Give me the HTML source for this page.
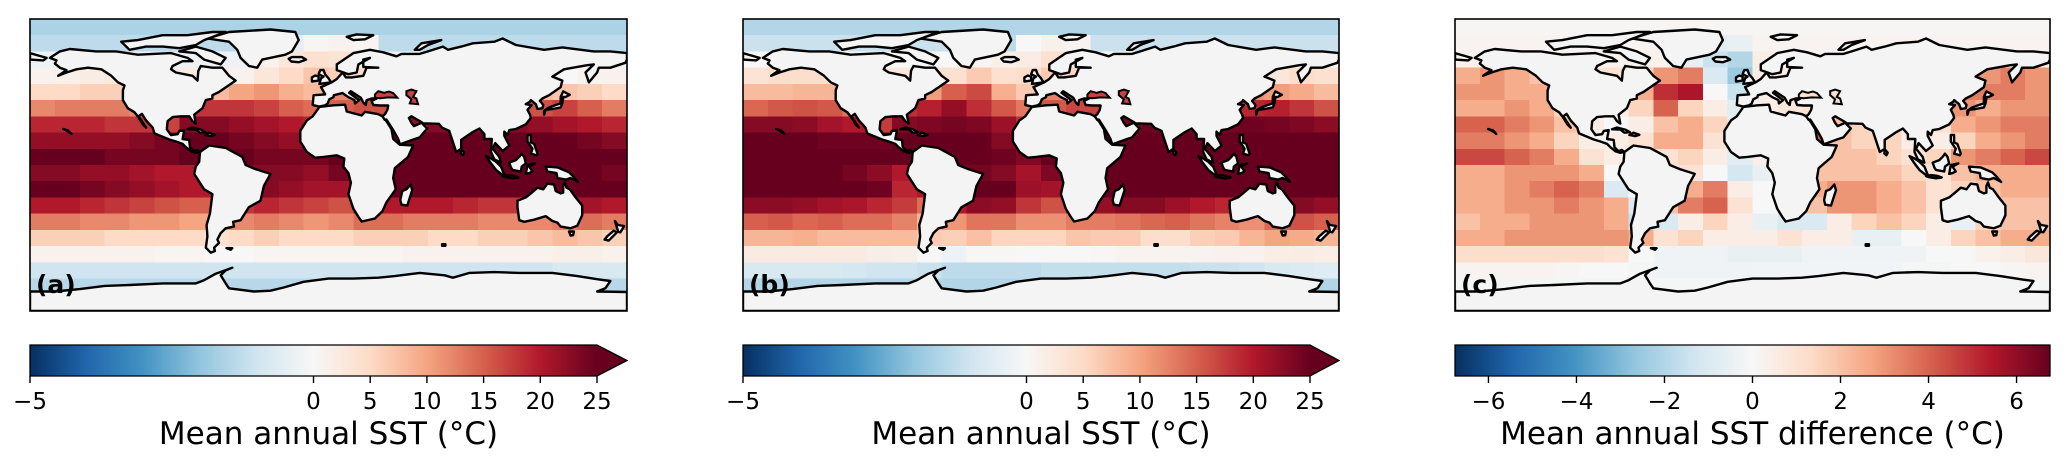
<!DOCTYPE html>
<html><head><meta charset="utf-8">
<style>
html,body{margin:0;padding:0;background:#fff;}
body{width:2067px;height:468px;overflow:hidden;font-family:"DejaVu Sans","Liberation Sans",sans-serif;}
svg text{font-family:"DejaVu Sans","Liberation Sans",sans-serif;}
</style></head>
<body>
<svg id="fig" width="2067" height="468" viewBox="0 0 2067 468" xmlns="http://www.w3.org/2000/svg">
<defs id="defs"></defs>
</svg>
<script>
// ---- data: latitude/longitude cell centres (10° x 15° grid) ----
const latCenters = [85,75,65,55,45,35,25,15,5,-5,-15,-25,-35,-45,-55,-65,-75,-85];
const lonCenters = [-172.5,-157.5,-142.5,-127.5,-112.5,-97.5,-82.5,-67.5,-52.5,-37.5,-22.5,-7.5,7.5,22.5,37.5,52.5,67.5,82.5,97.5,112.5,127.5,142.5,157.5,172.5];
// panel (a) mean annual SST (°C)
const sstA = [
[-1.6,-1.6,-1.6,-1.6,-1.6,-1.6,-1.6,-1.6,-1.6,-1.6,-1.6,-1.6,-1.6,-1.6,-1.6,-1.6,-1.6,-1.6,-1.6,-1.6,-1.6,-1.6,-1.6,-1.6],
[-1.3,-1.3,-1.3,-1.3,-1.3,-1.3,-1.3,-1.3,-1.3,-1.3,-0.5,0.5,1,0.5,-1.3,-1.3,-1.3,-1.3,-1.3,-1.3,-1.3,-1.3,-1.3,-1.3],
[-0.3,-0.3,-0.3,-0.3,-0.3,-0.3,-0.3,-0.3,-0.3,1,3,4,3.5,1.5,-0.3,-0.3,-0.3,-0.3,-0.3,-0.3,-0.3,-0.3,-0.3,-0.3],
[1,1.5,2,2.5,3,2,2,2,1,3,5,7,6,5,3,3,3,3,3,3,3,0,1,1],
[5,5,6,6,6,7,8,8,10,11,9,8,12,12,11,8,8,8,8,8,8,7,6,5],
[12,13,13,13,12,12,18,18,18,17,15,14,15,16,16,16,16,16,16,16,16,17,15,13],
[19,19,19,18,18,17,23,23,22,21,20,19,20,22,22,22,23,23,23,23,22,21,20,19],
[22,22,22,22,23,24,25,25,24,23,22,21,23,25,26,26,26,26,26,26,26,25,24,23],
[25,25,25,24,24,24,25,25,25,24,24,24,25,26,27,27,27,27,27,27,27,27,26,26],
[23,23,22,22,21,20,20,21,23,23,23,22,24,26,27,27,27,27,27,27,27,26,25,24],
[25,25,24,23,22,21,20,20,22,23,22,21,21,23,25,25,25,25,25,26,26,26,26,25],
[20,20,19,18,17,16,15,15,18,19,18,17,16,19,20,20,20,19,18,18,19,21,21,20],
[13,13,12,12,11,11,10,10,12,13,12,11,12,14,14,13,13,13,12,12,12,13,14,13],
[6,6,6,5,5,5,5,4,5,6,5,5,5,6,6,6,5,5,6,6,7,8,7,6],
[1,1,1,1,1,0.5,0.5,0,0,0.5,0.5,0.5,0.5,0.5,0.5,1,1,1,1,1,1,1.5,1.5,1],
[-1,-1,-1,-1,-1,-1,-1,-1,-1,-1,-1,-1,-1,-1,-1,-1,-1,-1,-1,-1,-1,-0.8,-0.8,-0.8],
[-1.4,-1.4,-1.4,-1.4,-1.4,-1.4,-1.4,-1.4,-1.4,-1.4,-1.4,-1.4,-1.4,-1.4,-1.4,-1.4,-1.4,-1.4,-1.4,-1.4,-1.4,-1.4,-1.4,-1.4],
[-1.5,-1.5,-1.5,-1.5,-1.5,-1.5,-1.5,-1.5,-1.5,-1.5,-1.5,-1.5,-1.5,-1.5,-1.5,-1.5,-1.5,-1.5,-1.5,-1.5,-1.5,-1.5,-1.5,-1.5]
];
// panel (c) SST difference (b - a), °C
const sstDiff = [
[0.1,0.1,0.1,0.1,0.1,0.1,0.1,0.1,0.1,0.1,0.1,0.1,0.1,0.1,0.1,0.1,0.1,0.1,0.1,0.1,0.1,0.1,0.1,0.1],
[0.2,0.2,0.2,0.2,0.2,0.2,0.2,0.2,0.2,0.2,-0.8,-0.5,0.2,0.2,0.2,0.2,0.2,0.2,0.2,0.2,0.2,0.2,0.2,0.2],
[0.3,0.3,0.3,0.3,0.3,0.3,0.3,0.3,0.3,-0.5,-1.5,-2,0.5,0.3,0.3,0.3,0.3,0.3,0.3,0.3,0.3,0.3,0.3,0.3],
[2.5,3,2.5,2,1,1,1,1.5,3,3.5,-1,-2.5,0.5,0.5,0.5,0.5,0.5,0.5,0.5,1,2.5,3,3.5,3],
[3,3,2.5,2.5,2,1,1,2.5,5,5.5,0,-1.5,0.5,1,1,1,1,1,1,2,3.5,3.5,3.5,3],
[2.5,2.5,3,2.5,1.5,0.5,0.5,1.5,4,1.5,0.5,-0.8,0.5,0.8,1,1,1,1,1,2,3,2.5,3,3],
[4,4,3.5,3,2,0.5,0,0.5,2,2.5,1.5,-0.5,0.5,1,2,2,1.5,1,1,1,2.5,3,3.5,3.5],
[3.5,3.5,3,2.5,1.5,0.5,0.5,1,2.5,2.5,1,-0.5,0.5,1.5,4,2,1.5,1.5,0.5,0.5,1.5,2.5,3,3.5],
[4.5,4.5,4,3.5,2.5,1,0.5,0.5,1,1.5,0.5,-0.8,0.5,1,2,2,2,1.5,1,1.5,3,3.5,4,4.5],
[2.5,2.5,3,3,3,2.5,0,0.5,1,1,0,-1.2,-0.5,1,2,2,2,2,1.5,1,2,2.5,2.5,2.5],
[2.5,2.5,3,3.5,4,3.5,-1,0,1,2.5,3.5,0.5,0,1.5,2.5,3,3,2.5,2,1,1.5,2,2.5,2.5],
[2.5,2.5,3,3,3.5,3,2.5,-1,2,3.5,4,1,0,0.5,2,3,3,2.5,2,1,1.5,2,2,2],
[2,2.5,2.5,3,3,3,2.5,-1.5,-1,0.5,1.5,0.5,-0.5,-1,-1,0.5,1.5,2,1.5,0.5,-0.5,1.5,2,2],
[2.5,2.5,3,3,3,3,3,2.5,1,1.5,0.5,0.5,0.5,1,0.5,0.5,-0.5,-0.5,0,0.5,1.5,2,2.5,2.5],
[1.2,1.2,1.2,1.2,1.2,1.2,1,0,-0.3,-0.3,-0.3,-0.5,-0.5,-0.5,-0.3,-0.3,-0.3,-0.3,-0.3,0,0,0.3,0.5,0.8],
[0.2,0.2,0.2,0.2,0.1,0,0,-0.1,-0.3,-0.3,-0.3,-0.3,-0.2,-0.2,-0.2,-0.2,-0.2,-0.2,-0.1,-0.1,0,0,0.1,0.2],
[-0.1,-0.1,-0.1,-0.1,-0.1,-0.1,-0.1,-0.1,-0.1,-0.1,-0.1,-0.1,-0.1,-0.1,-0.1,-0.1,-0.1,-0.1,-0.1,-0.1,-0.1,-0.1,-0.1,-0.1],
[0,0,0,0,0,0,0,0,0,0,0,0,0,0,0,0,0,0,0,0,0,0,0,0]
];
const ticksSST = [-5,0,5,10,15,20,25];
const ticksDiff = [-6,-4,-2,0,2,4,6];
const panelLabels = ["(a)","(b)","(c)"];
const cbarTitles = ["Mean annual SST (°C)","Mean annual SST (°C)","Mean annual SST difference (°C)"];

// ---- land outlines (lon,lat) ----
const land = {
 northAmerica:[[-168,66],[-162,70],[-156,71.5],[-140,70],[-128,70],[-115,68],[-95,69],[-85,66],[-82,64],[-88,64],[-94,61],[-95,59],[-92,57],[-82,55],[-79,52],[-78.5,58],[-77,61],[-70,60],[-64,60],[-60,55],[-56,52],[-66,45],[-70,43],[-70,41],[-74,40],[-76,35],[-81,31],[-80,25.5],[-82,27],[-84,30],[-89,30],[-94,29.5],[-97,27],[-97.5,22],[-95,18.5],[-91,19],[-90,21],[-87,21.5],[-88,16],[-84,15.5],[-83.5,11],[-81,8.5],[-79,9.3],[-77.5,8],[-80,7.5],[-83,8.5],[-86,11],[-88,13],[-92,14.5],[-96,15.7],[-105,19.5],[-106,23],[-110,27.5],[-112.5,31.5],[-114.5,30],[-110,23],[-112,25],[-115,30],[-117,32.5],[-121,35],[-124,40],[-124,46],[-123,49],[-127,51],[-131,55],[-137,59],[-145,60],[-152,59],[-158,57],[-163,55],[-158,58.5],[-162,60],[-165,62.5],[-164,64.5],[-168,66]],
 greenland:[[-73,78],[-60,82],[-35,83.5],[-20,82],[-18,77],[-22,70],[-26,68],[-40,65],[-43,60],[-48,61],[-53,66],[-55,71],[-60,76],[-73,78]],
 arcticIslands:[[-120,71],[-125,76],[-115,77],[-100,80],[-85,80],[-70,82],[-62,82],[-75,77],[-80,74],[-90,72],[-100,73],[-110,73],[-120,71]],
 baffin:[[-80,73],[-90,70],[-80,69],[-75,65],[-65,62],[-62,66],[-70,70],[-80,73]],
 southAmerica:[[-77.5,8],[-72,12],[-62,10.5],[-52,5],[-50,0],[-44,-2.5],[-35,-5.5],[-39,-13],[-41,-22],[-48,-26],[-53,-34],[-57.5,-35],[-57,-38],[-62,-39],[-65,-42],[-67,-46],[-66,-48],[-69,-51],[-68.5,-53],[-71,-54],[-74,-51],[-73,-44],[-73.5,-37],[-71.5,-30],[-70,-18],[-75,-15],[-81,-5.5],[-80,-1],[-78,2],[-77.5,8]],
 africa:[[-17,21],[-13,27.5],[-9.5,30],[-5.5,35.8],[3,36.8],[10,37.2],[11,33],[20,30.5],[22,32.8],[30,31.3],[32.5,30],[35,27],[38,22],[39,16],[43,12.5],[51,12],[48,5],[40,-2],[39,-8],[40.5,-15],[35,-23],[32.5,-28.5],[28,-33],[20,-34.8],[18,-32],[15,-27],[12,-18],[13.5,-11],[12,-5],[9,-1],[9.5,4],[5,6],[-3,5],[-8,4.5],[-13,8],[-17,14.5],[-17,21]],
 eurasia:[[-9.5,37],[-9,43],[-2,43.5],[-4.5,48],[2,51],[5,53],[8.5,57],[10.5,54],[14,54],[21,55],[23,60],[30,60],[21,60.5],[21,65],[25,66],[18,62],[17,57],[12,56],[5,58.5],[5,62],[15,69],[25,71],[33,69.5],[41,67],[44,68.5],[55,68.5],[60,70],[69,73],[72,71],[80,73],[87,75],[100,76],[105,78],[113,74],[130,71],[141,72.5],[160,70],[170,70],[180,69],[180,65],[179,63],[170,60],[163,60],[162,57],[157,51],[155,57],[160,62],[156,61.5],[142,59],[135,54.5],[141,52],[140,48],[133,43],[129,41],[127.5,39.5],[129.5,37],[129,35],[126,34.5],[125,37.5],[122,40],[121.5,39],[119,37.5],[122.5,36.9],[120,34],[121.5,31],[122,29],[119,25],[113,22.2],[109,21.5],[108,18.5],[106,20.5],[106,18],[109,12],[105,8.6],[100.5,13.5],[99,10],[103,5],[104,1.4],[100,3.5],[98,8],[98.5,16],[94,16],[94,19],[91,22.5],[86.5,20],[80,15.5],[80,10],[77,8],[72.8,21],[68.5,23],[66.5,25.4],[57,25.7],[56,26.5],[50,30],[48.5,29],[50,26],[51.5,24],[56,26],[59.5,22.5],[55,17],[52,16],[43,12.7],[42,16],[39,21.5],[35,28],[34,27.8],[32.5,30],[34,31.3],[35.5,34],[36,36.7],[31,36.7],[27,37],[26,39.5],[29,41],[26,41],[23,40],[22.5,37],[21,38.5],[19.5,41.5],[13.5,45.5],[12.4,44.5],[18.5,40],[16,38],[15.7,40],[12,41.8],[8.5,44.3],[3.2,43],[3,41.8],[0.5,40.5],[-0.5,38],[-2,36.8],[-5.5,36],[-9.5,37]],
 russiaWest:[[-180,65],[-172,64.5],[-170,66],[-180,69]],
 uk:[[-5.5,50],[1.5,51],[0,53.5],[-2,55.8],[-3,58.6],[-5,58.5],[-6,56],[-3,54.5],[-4.5,53.5],[-5,51.7],[-5.5,50]],
 ireland:[[-10,51.5],[-6,52],[-6,54.5],[-8,55.2],[-10,54],[-10,51.5]],
 iceland:[[-24,65.5],[-22,66.5],[-16,66.5],[-13.5,65],[-18,63.4],[-22.5,63.8],[-24,65.5]],
 japan:[[130,31],[131,34],[135,34.5],[140,35.5],[141,38],[141.5,41],[140,41.5],[140,38],[137,37],[133,35.5],[130,33.5],[130,31]],
 hokkaido:[[140,42],[141.5,45.4],[145.5,43.3],[143,42],[140,42]],
 australia:[[114,-22],[114,-26],[115,-34],[118,-35],[124,-33.7],[131,-31.5],[135,-34.5],[138,-35.5],[140,-38],[146,-39],[150,-37.5],[153,-31],[153,-25],[149,-20],[145.5,-15],[143.5,-14],[142.5,-10.7],[141.5,-13],[141.5,-17],[140,-17.5],[137,-16],[136,-12],[132,-11.5],[129.5,-15],[126,-14],[122,-17.5],[119,-20],[114,-22]],
 newGuinea:[[131,-1],[138,-1.5],[145,-4.5],[147,-6.5],[150.5,-10.5],[146,-8],[143,-9],[138,-8],[137.5,-5],[132,-4],[131,-1]],
 borneo:[[109,1.5],[110,-1.5],[111,-3],[116,-4],[116.5,-1],[119,1],[118,5],[116.5,7],[115,5],[113,3],[109,1.5]],
 sumatra:[[95,5.5],[98,4],[101,2],[104,-1],[106,-6],[104.5,-5.8],[101,-3],[98,1],[95,5.5]],
 java:[[105,-6.8],[108,-6.2],[112,-6.8],[114.5,-7.7],[111,-8.2],[106,-7.4],[105,-6.8]],
 sulawesi:[[119,-5.5],[120,0],[124.5,1],[121,-1],[123,-4],[121,-5],[119,-5.5]],
 philippines:[[120,18.5],[122,18.5],[122,14],[124,13],[126,7],[125.5,6],[122,7],[123,10],[120,14.5],[120,18.5]],
 madagascar:[[49.5,-12],[50.5,-15.5],[47.5,-25],[44,-24.5],[43.3,-21.5],[44.5,-16],[47,-15],[49.5,-12]],
 sriLanka:[[80,9.8],[81.8,7.5],[81,6],[79.8,7],[80,9.8]],
 nzNorth:[[172.7,-34.5],[174.5,-37],[178.3,-37.6],[176,-41.5],[174.8,-41.3],[174,-38.7],[172.7,-34.5]],
 nzSouth:[[172,-40.5],[174,-41.5],[171,-44.5],[169,-46.6],[166.5,-46],[168,-44],[172,-40.5]],
 tasmania:[[145,-41],[148,-41],[147.5,-43.3],[146,-43.5],[145,-41]],
 cuba:[[-85,22],[-82,23.1],[-77,21.8],[-74.2,20.2],[-77.5,19.9],[-80,21.8],[-85,22]],
 hispaniola:[[-74.5,18.5],[-72,19.9],[-68.5,18.6],[-71,17.8],[-74.5,18.5]],
 hawaii:[[-160,22.2],[-157,21.3],[-155,19.2],[-156,20],[-158.5,21.6],[-160,22.2]],
 falklands:[[-61.5,-51.2],[-58,-51.3],[-59,-52.3],[-61.5,-51.2]],
 kerguelen:[[68.5,-48.8],[70.5,-48.8],[70.5,-49.8],[68.5,-49.8],[68.5,-48.8]],
 svalbard:[[11,79],[17,80.5],[27,80],[22,77.5],[15,77],[11,79]],
 novayaZemlya:[[52,71],[56,75],[68,77],[60,74],[55,71],[52,71]],
 antarctica:[[-180,-90],[-180,-84],[-180,-78],[-165,-78],[-150,-76.5],[-135,-74.5],[-120,-74],[-100,-73],[-80,-73],[-75,-71],[-68,-67],[-58,-63.3],[-62,-65],[-65,-68],[-62,-73],[-60,-76],[-45,-78],[-35,-77.5],[-27,-75.5],[-15,-72],[0,-70],[15,-70],[30,-69.5],[40,-68.5],[55,-66.5],[70,-68],[75,-69.5],[85,-66.5],[100,-66],[115,-66.5],[135,-66.5],[150,-68.5],[163,-70.5],[170,-71.5],[167,-76],[162,-78],[180,-78.3],[180,-90]]
};
const blackSea = [[28,41.5],[28,43.5],[30,45.5],[33.5,44.5],[36.5,45.3],[39,44.3],[41.5,41.5],[36,41.7],[31,41.1],[28,41.5]];
const caspian = [[47,45.5],[50,46.5],[53,45.5],[51,42],[53,41],[54,37.5],[49,38],[50,40.5],[47,43],[47,45.5]];
const inlandSeaValue = [17, 17, 1.2];

// ---- colormap RdBu_r ----
const stops = ["#053061","#2166ac","#4393c3","#92c5de","#d1e5f0","#f7f7f7","#fddbc7","#f4a582","#d6604d","#b2182b","#67001f"];
function hex(h){return [parseInt(h.slice(1,3),16),parseInt(h.slice(3,5),16),parseInt(h.slice(5,7),16)];}
const stopRGB = stops.map(hex);
function cmap(t){
  t=Math.max(0,Math.min(1,t));
  const p=t*10, i=Math.min(9,Math.floor(p)), f=p-i;
  const a=stopRGB[i], b=stopRGB[i+1];
  return `rgb(${Math.round(a[0]+(b[0]-a[0])*f)},${Math.round(a[1]+(b[1]-a[1])*f)},${Math.round(a[2]+(b[2]-a[2])*f)})`;
}
function normSST(v){return v<0?0.5+0.5*v/5:0.5+0.5*v/25;}
const diffMax=6.76;
function normDiff(v){return 0.5+0.5*v/diffMax;}

const NS="http://www.w3.org/2000/svg";
const fig=document.getElementById('fig');
const defs=document.getElementById('defs');
function el(tag,attrs,parent){const e=document.createElementNS(NS,tag);for(const k in attrs)e.setAttribute(k,attrs[k]);(parent||fig).appendChild(e);return e;}

const panels=[
 {x0:30,x1:627,cb0:30,cbEnd:597,arrow:true,grid:'a'},
 {x0:743,x1:1339,cb0:743,cbEnd:1310,arrow:true,grid:'b'},
 {x0:1455,x1:2050,cb0:1455,cbEnd:2050,arrow:false,grid:'c'}
];
const mapY0=19, mapY1=311;
const cbY0=345, cbY1=376;

function valueAt(kind,r,c){
  if(kind==='a') return sstA[r][c];
  if(kind==='b') return sstA[r][c]+sstDiff[r][c];
  return sstDiff[r][c];
}

panels.forEach((P,pi)=>{
  const xs=lon=>P.x0+(lon+180)/360*(P.x1-P.x0);
  const ys=lat=>mapY0+(90-lat)/180*(mapY1-mapY0);
  const norm = P.grid==='c'?normDiff:normSST;
  const g=el('g',{});
  
  
  const cp=el('clipPath',{id:'clip'+pi},defs);
  el('rect',{x:P.x0,y:mapY0,width:P.x1-P.x0,height:mapY1-mapY0},cp);
  const cells=el('g',{'clip-path':'url(#clip'+pi+')','shape-rendering':'crispEdges'},g);
  
  
  latCenters.forEach((lat,r)=>{
    lonCenters.forEach((lon,c)=>{
      const x=xs(lon-7.5), x2=xs(lon+7.5), y=ys(lat+5), y2=ys(lat-5);
      const rc=el('rect',{x:x,y:y,width:x2-x+0.6,height:y2-y+0.6,fill:cmap(norm(valueAt(P.grid,r,c)))},cells);
      
      
    });
  });
  const landG=el('g',{'clip-path':'url(#clip'+pi+')'},g);
  
  
  const toPath=pts=>'M'+pts.map(p=>xs(p[0]).toFixed(1)+','+ys(p[1]).toFixed(1)).join('L')+'Z';
  for(const k in land){
    const p=el('path',{d:toPath(land[k]),fill:'#f4f4f4',stroke:'#000','stroke-width':2.4,'stroke-linejoin':'round'},landG);
    
    
  }
  [blackSea,caspian].forEach((s,si)=>{
    const p=el('path',{d:toPath(s),fill:cmap(norm(inlandSeaValue[pi])),stroke:'#000','stroke-width':2},landG);
    
    
  });
  const frame=el('rect',{x:P.x0,y:mapY0,width:P.x1-P.x0,height:mapY1-mapY0,fill:'none',stroke:'#000','stroke-width':1.6},g);
  
  
  const lab=el('text',{x:P.x0+6,y:mapY1-18,'font-size':25,'font-weight':'bold',fill:'#000'},g);
  lab.textContent=panelLabels[pi];
  
  

  // colorbar
  const cg=el('g',{});
  
  
  const gid='grad'+pi;
  const lg=el('linearGradient',{id:gid,x1:0,x2:1,y1:0,y2:0},defs);
  stops.forEach((s,i)=>el('stop',{offset:(i/10),'stop-color':s},lg));
  const w=P.cbEnd-P.cb0;
  el('rect',{x:P.cb0,y:cbY0,width:w,height:cbY1-cbY0,fill:'url(#'+gid+')'},cg);
  let outline;
  if(P.arrow){
    el('path',{d:`M${P.cbEnd},${cbY0}L${P.x1},${(cbY0+cbY1)/2}L${P.cbEnd},${cbY1}Z`,fill:stops[10]},cg);
    outline=`M${P.cb0},${cbY0}L${P.cbEnd},${cbY0}L${P.x1},${(cbY0+cbY1)/2}L${P.cbEnd},${cbY1}L${P.cb0},${cbY1}Z`;
  } else outline=`M${P.cb0},${cbY0}L${P.cbEnd},${cbY0}L${P.cbEnd},${cbY1}L${P.cb0},${cbY1}Z`;
  el('path',{d:outline,fill:'none',stroke:'#000','stroke-width':1.3},cg);
  const ticks=P.grid==='c'?ticksDiff:ticksSST;
  ticks.forEach(t=>{
    const x=P.cb0+norm(t)*w;
    el('line',{x1:x,x2:x,y1:cbY1,y2:cbY1+7,stroke:'#000','stroke-width':1.4},cg);
    const tx=el('text',{x:x,y:cbY1+33,'font-size':23,'text-anchor':'middle',fill:'#000'},cg);
    tx.textContent=(t<0?'\u2212'+Math.abs(t):String(t));
    
    
  });
  const tt=el('text',{x:(P.x0+P.x1)/2,y:cbY1+68,'font-size':31,'text-anchor':'middle',fill:'#000'},cg);
  tt.textContent=cbarTitles[pi];
  
  
});
</script>
</body></html>
